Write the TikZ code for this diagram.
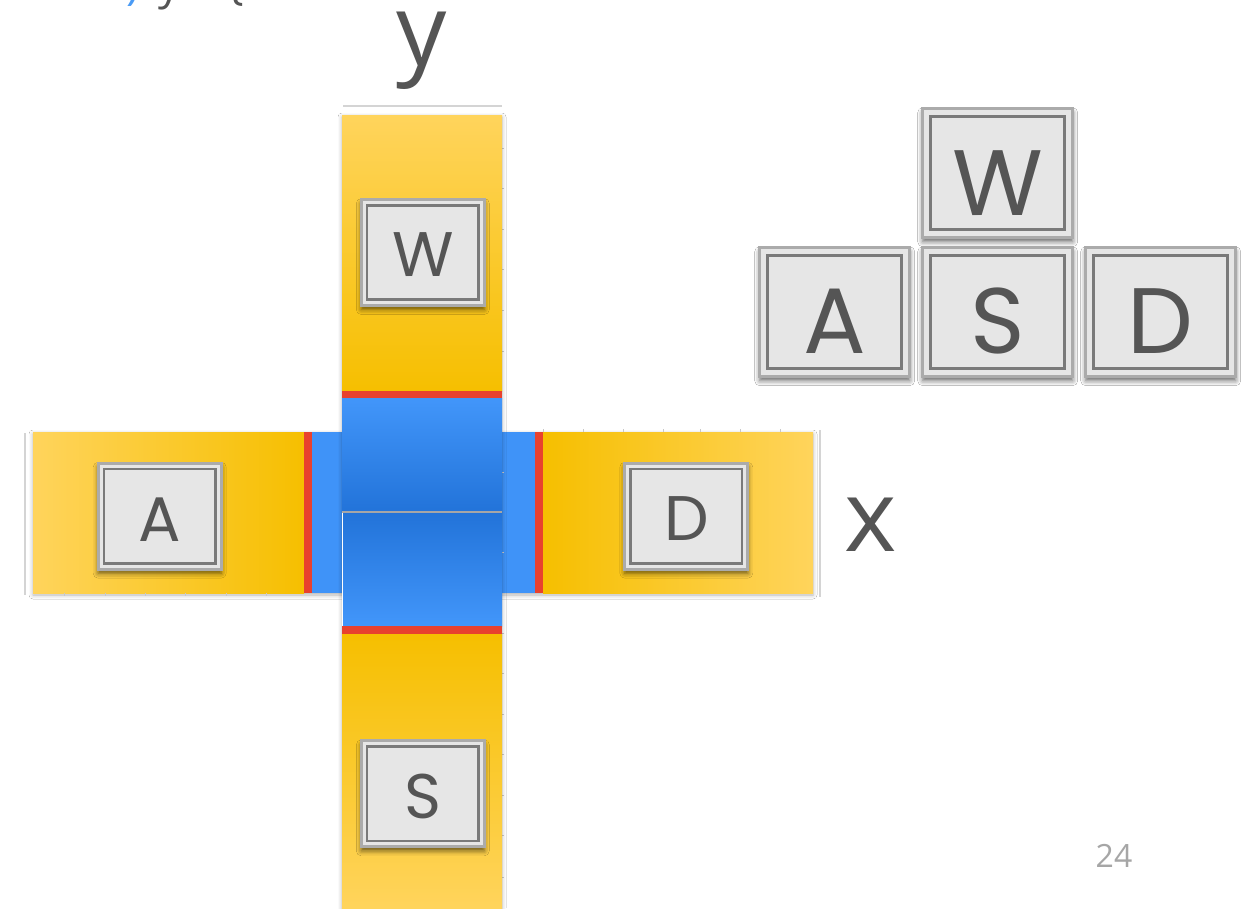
\documentclass[tikz,border=0pt]{standalone}
\usepackage{fontspec}
\setmainfont{Open Sans}
\newfontfamily\keyfont{Poppins}
\usetikzlibrary{calc,shadows.blur}
\definecolor{ylight}{HTML}{FFD45C}
\definecolor{ydeep}{HTML}{F6BF00}
\definecolor{blight}{HTML}{4296FA}
\definecolor{bdark}{HTML}{2273D9}
\definecolor{bflat}{HTML}{3F93F8}
\definecolor{redband}{HTML}{E8412E}
\definecolor{keyfill}{HTML}{E6E6E6}
\definecolor{keyouter}{HTML}{ABABAB}
\definecolor{keyinner}{HTML}{7A7A7A}
\definecolor{txt}{HTML}{555555}
\definecolor{rulegray}{HTML}{D4D4D4}
\definecolor{tickgray}{HTML}{C8C8C8}
\definecolor{codeblue}{HTML}{4A9BF5}
\definecolor{pagenum}{HTML}{A6A6A6}
\tikzset{
  keybox/.style={draw=keyouter, line width=3pt, fill=keyfill, inner sep=0pt, outer sep=0pt,
    blur shadow={shadow xshift=0pt, shadow yshift=-4pt, shadow blur radius=5pt, shadow opacity=60}},
  smallkey/.style={keybox, minimum width=123pt, minimum height=106pt},
  bigkey/.style={keybox, minimum width=150pt, minimum height=129pt},
  keyin/.style={draw=keyinner, line width=2.5pt},
  letterS/.style={font=\keyfont\fontsize{63}{63}\selectfont, text=txt, inner sep=0pt},
  letterL/.style={font=\keyfont\fontsize{93}{93}\selectfont, text=txt, inner sep=0pt},
  axislabel/.style={font=\fontsize{100}{100}\selectfont, text=txt, inner sep=0pt, anchor=base},
  cliptext/.style={font=\fontsize{44}{44}\selectfont, inner sep=0pt, anchor=base},
  barshadow/.style={blur shadow={shadow xshift=0pt, shadow yshift=-2pt, shadow blur radius=4pt, shadow opacity=30}},
  guide/.style={draw=rulegray, line width=2pt},
  tick/.style={draw=tickgray, line width=0.7pt},
  band/.style={fill=redband}
}
\begin{document}
\begin{tikzpicture}[x=1pt,y=-1pt]
\useasboundingbox (0,0) rectangle (1247,908);
\clip (0,0) rectangle (1247,908);
\fill[white] (0,0) rectangle (1247,908);

% clipped text line at top
\node[cliptext, text=codeblue] (t1) at (133,-1) {)};
\node[cliptext, text=txt] (t2) at (170,-1) {y};
\node[cliptext, text=txt] (t3) at (236,-1) {\{};

% guide lines
\draw[guide] (343,106) -- (502,106);
\draw[guide] (25,433) -- (25,595);
\draw[guide] (819.5,430) -- (819.5,597);

% horizontal arm
\fill[ydeep, barshadow] (33,432) rectangle (813,593);
\shade[left color=ylight, right color=ydeep] (33,432) rectangle (304,593);
\fill[band] (304,432) rectangle (312,593);
\fill[bflat] (312,432) rectangle (342,593);
\fill[bflat] (502,432) rectangle (535,593);
\fill[band] (535,432) rectangle (543,593);
\shade[left color=ydeep, right color=ylight] (543,432) rectangle (813,593);

% ticks
\foreach \tx in {64,105,145,185,226,266} \draw[tick] (\tx,593) -- (\tx,596);
\foreach \tx in {543,583,623,663,700,740,780} \draw[tick] (\tx,429) -- (\tx,432);
\foreach \ty in {148,188.6,229.2,269.8,310.4,351,472,552.7,593,633,673.5,714,754,795,835,877} \draw[tick] (502,\ty) -- (504,\ty);

% vertical bar
\fill[ydeep, barshadow] (342,115) rectangle (502,908);
\shade[top color=ylight, bottom color=ydeep] (342,115) rectangle (502,391);
\fill[band] (342,391) rectangle (502,398);
\shade[top color=blight, bottom color=bdark] (342,398) rectangle (502,512);
\shade[top color=bdark, bottom color=blight] (342,512) rectangle (502,626);
\draw[white, line width=1pt] (342.5,513) -- (342.5,626);
\draw[draw=gray!70, line width=1.8pt] (342,512) -- (502,512);
\fill[band] (342,626) rectangle (502,634);
\shade[top color=ydeep, bottom color=ylight] (342,634) rectangle (502,908);

% keys on the cross
\node[smallkey] (cw) at (422.8,252.5) {};
\draw[keyin] ($(cw.north west)+(5.8,5.8)$) rectangle ($(cw.south east)+(-5.8,-5.8)$);
\node[letterS] (cwl) at ($(cw.center)+(0,2)$) {W};

\node[smallkey] (ca) at (159.7,516.2) {};
\draw[keyin] ($(ca.north west)+(5.8,5.8)$) rectangle ($(ca.south east)+(-5.8,-5.8)$);
\node[letterS] (cal) at ($(ca.center)+(0,3)$) {A};

\node[smallkey] (cd) at (686.3,516.2) {};
\draw[keyin] ($(cd.north west)+(5.8,5.8)$) rectangle ($(cd.south east)+(-5.8,-5.8)$);
\node[letterS] (cdl) at ($(cd.center)+(0,2.5)$) {D};

\node[smallkey] (cs) at (422.8,793.8) {};
\draw[keyin] ($(cs.north west)+(5.8,5.8)$) rectangle ($(cs.south east)+(-5.8,-5.8)$);
\node[letterS] (csl) at ($(cs.center)+(0,3)$) {S};

% WASD cluster
\node[bigkey] (kw) at (997.7,173.2) {};
\draw[keyin] ($(kw.north west)+(8,8)$) rectangle ($(kw.south east)+(-8,-8)$);
\node[letterL] (kwl) at ($(kw.center)+(0,10)$) {W};

\node[bigkey] (ka) at (834.7,312.2) {};
\draw[keyin] ($(ka.north west)+(8,8)$) rectangle ($(ka.south east)+(-8,-8)$);
\node[letterL] (kal) at ($(ka.center)+(0,9)$) {A};

\node[bigkey] (ks) at (997.7,312.2) {};
\draw[keyin] ($(ks.north west)+(8,8)$) rectangle ($(ks.south east)+(-8,-8)$);
\node[letterL] (ksl) at ($(ks.center)+(0,9)$) {S};

\node[bigkey] (kd) at (1160.7,312.2) {};
\draw[keyin] ($(kd.north west)+(8,8)$) rectangle ($(kd.south east)+(-8,-8)$);
\node[letterL] (kdl) at ($(kd.center)+(0,9)$) {D};

% axis labels
\node[axislabel] (ylab) at (422,65) {y};
\node[axislabel] (xlab) at (870.5,551) {x};

% page number
\node[font=\fontsize{32}{32}\selectfont, text=pagenum, inner sep=0pt, anchor=base] (pnum) at (1114,867.7) {24};
\end{tikzpicture}
\end{document}
